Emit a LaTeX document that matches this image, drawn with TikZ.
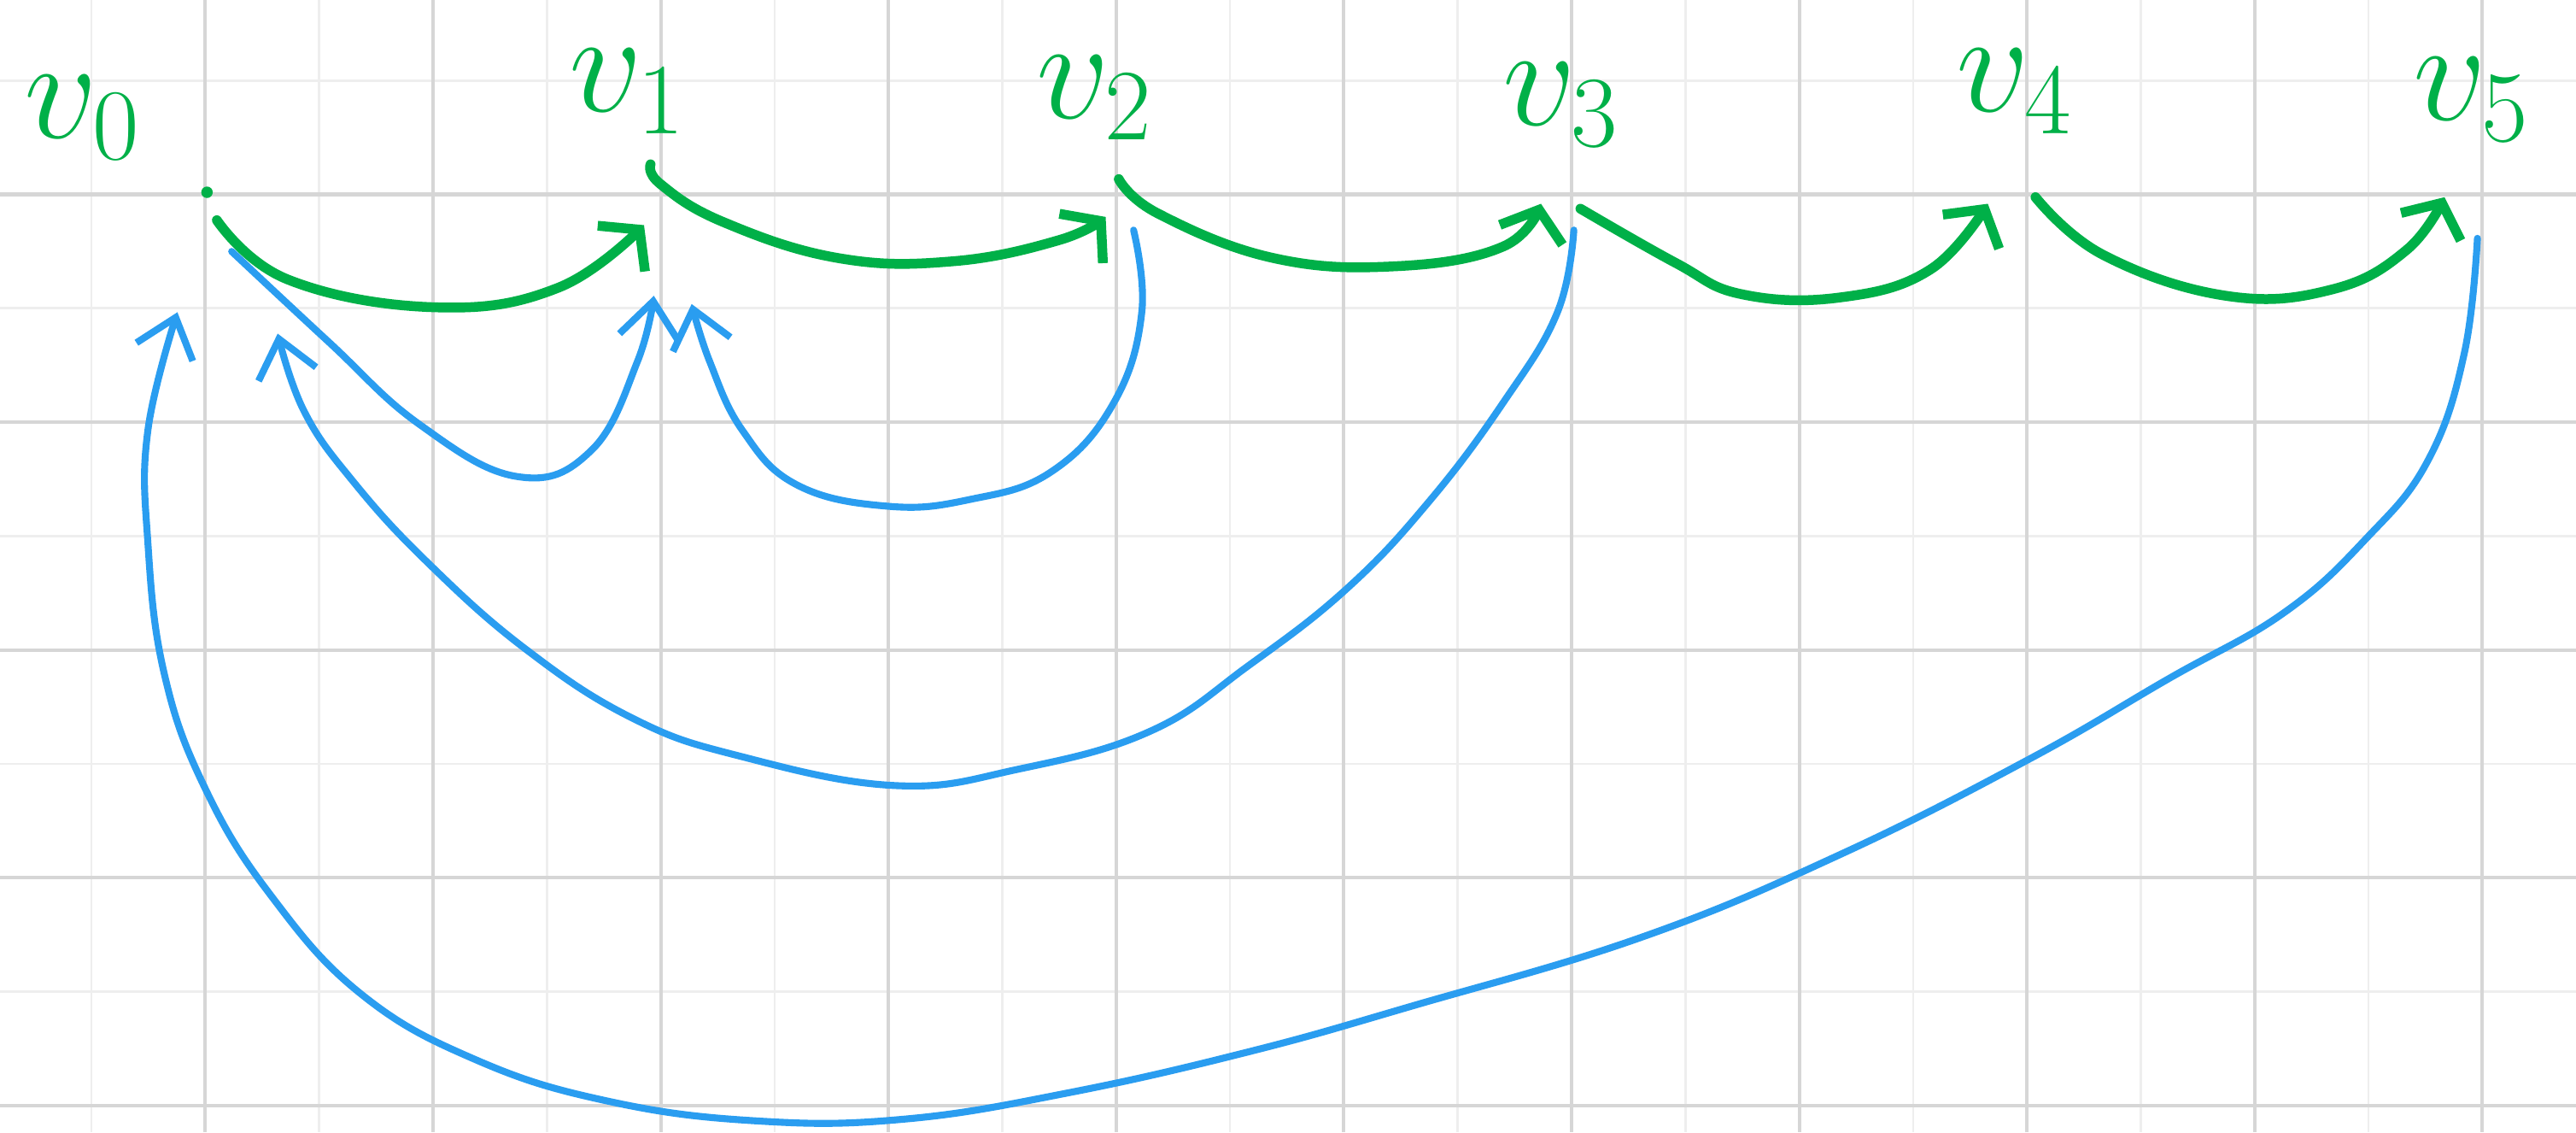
\RequirePackage{fix-cm}
\documentclass[tikz,border=0pt]{standalone}
\usetikzlibrary{arrows.meta}
\definecolor{gmark}{RGB}{0,176,72}
\definecolor{bmark}{RGB}{42,157,240}
\definecolor{gridmajor}{RGB}{214,214,214}
\definecolor{gridminor}{RGB}{238,238,238}
\begin{document}
\begin{tikzpicture}[x=0.01cm,y=-0.01cm,
  gline/.style={draw=gmark,line width=1.7pt,line cap=round,line join=round,
    -{Straight Barb[length=1.6mm,width=4mm,line width=1.7pt]}},
  bline/.style={draw=bmark,line width=1.2pt,line cap=round,line join=round,
    -{Straight Barb[length=2.2mm,width=3.6mm,line width=1.2pt]}},
  lbl/.style={text=gmark,font=\fontsize{25}{30}\selectfont,inner sep=0pt,anchor=base west}]
\useasboundingbox (0,0) rectangle (1568,689);
\fill[white] (0,0) rectangle (1568,689);
% grid
\foreach \i in {0,2,...,22} {\pgfmathsetmacro\xx{55.7+69.3*\i}
  \draw[gridminor,line width=0.4pt] (\xx,0) -- (\xx,689);}
\foreach \j in {0,2,...,8} {\pgfmathsetmacro\yy{49+69.3*\j}
  \draw[gridminor,line width=0.4pt] (0,\yy) -- (1568,\yy);}
\foreach \i in {1,3,...,21} {\pgfmathsetmacro\xx{55.7+69.3*\i}
  \draw[gridmajor,line width=0.6pt] (\xx,0) -- (\xx,689);}
\foreach \j in {1,3,...,9} {\pgfmathsetmacro\yy{49+69.3*\j}
  \draw[gridmajor,line width=0.6pt] (0,\yy) -- (1568,\yy);}
% labels
\node[lbl] (L0) at (14,84) {$v_0$};
\node[lbl] (L1) at (346,68) {$v_1$};
\node[lbl] (L2) at (630,72) {$v_2$};
\node[lbl] (L3) at (914,76) {$v_3$};
\node[lbl] (L4) at (1190,68) {$v_4$};
\node[lbl] (L5) at (1468,73) {$v_5$};
% vertices
\coordinate (v0) at (126,117);
\coordinate (v1) at (396,100);
\coordinate (v2) at (681,109);
\coordinate (v3) at (962,127);
\coordinate (v4) at (1239,120);
\coordinate (v5) at (1508,145);
\fill[gmark] (v0) circle (3.5);
% arrow ends
\coordinate (a1g) at (392,137);
\coordinate (a2g) at (673,132);
\coordinate (a3g) at (938,124);
\coordinate (a4g) at (1210,124);
\coordinate (a5g) at (1488,120);
\coordinate (a1bl) at (398,180);
\coordinate (a1br) at (421,185);
\coordinate (a0bl) at (108,190);
\coordinate (a0br) at (169,203);
\coordinate (s0) at (132,134);
\coordinate (s0b) at (141,153);
\coordinate (s2b) at (690,140);
\coordinate (s3b) at (958,140);
% green path edges
\draw[gline] plot[smooth,tension=0.7] coordinates {(s0) (175,170) (265,187) (340,175) (a1g)};
\draw[gline] plot[smooth,tension=0.7] coordinates {(v1) (402,112) (440,135) (510,157) (580,159) (645,146) (a2g)};
\draw[gline] plot[smooth,tension=0.7] coordinates {(v2) (705,130) (775,157) (850,162) (915,150) (a3g)};
\draw[gline] plot[smooth,tension=0.7] coordinates {(v3) (1020,160) (1060,179) (1120,181) (1175,164) (a4g)};
\draw[gline] plot[smooth,tension=0.7] coordinates {(v4) (1280,155) (1355,180) (1420,176) (1465,152) (a5g)};
% blue back edges
\draw[bline] plot[smooth,tension=0.7] coordinates {(s0b) (200,208) (255,258) (315,290) (360,274) (388,220) (a1bl)};
\draw[bline] plot[smooth,tension=0.7] coordinates {(s2b) (695,190) (678,245) (640,287) (590,304) (540,308) (485,295) (452,262) (432,220) (a1br)};
\draw[bline] plot[smooth,tension=0.7] coordinates {(s3b) (948,190) (915,245) (870,305) (820,358) (760,405) (700,445) (620,468) (545,478) (450,460) (385,437) (320,395) (260,342) (215,293) (185,250) (a0br)};
\draw[bline] plot[smooth,tension=0.7] coordinates {(v5) (1500,215) (1478,280) (1440,328) (1390,373) (1320,413) (1235,462) (1120,520) (1000,570) (860,612) (760,640) (650,665) (550,681) (460,682) (370,670) (290,645) (220,605) (165,545) (125,480) (100,410) (90,330) (90,262) (a0bl)};
\end{tikzpicture}
\end{document}
